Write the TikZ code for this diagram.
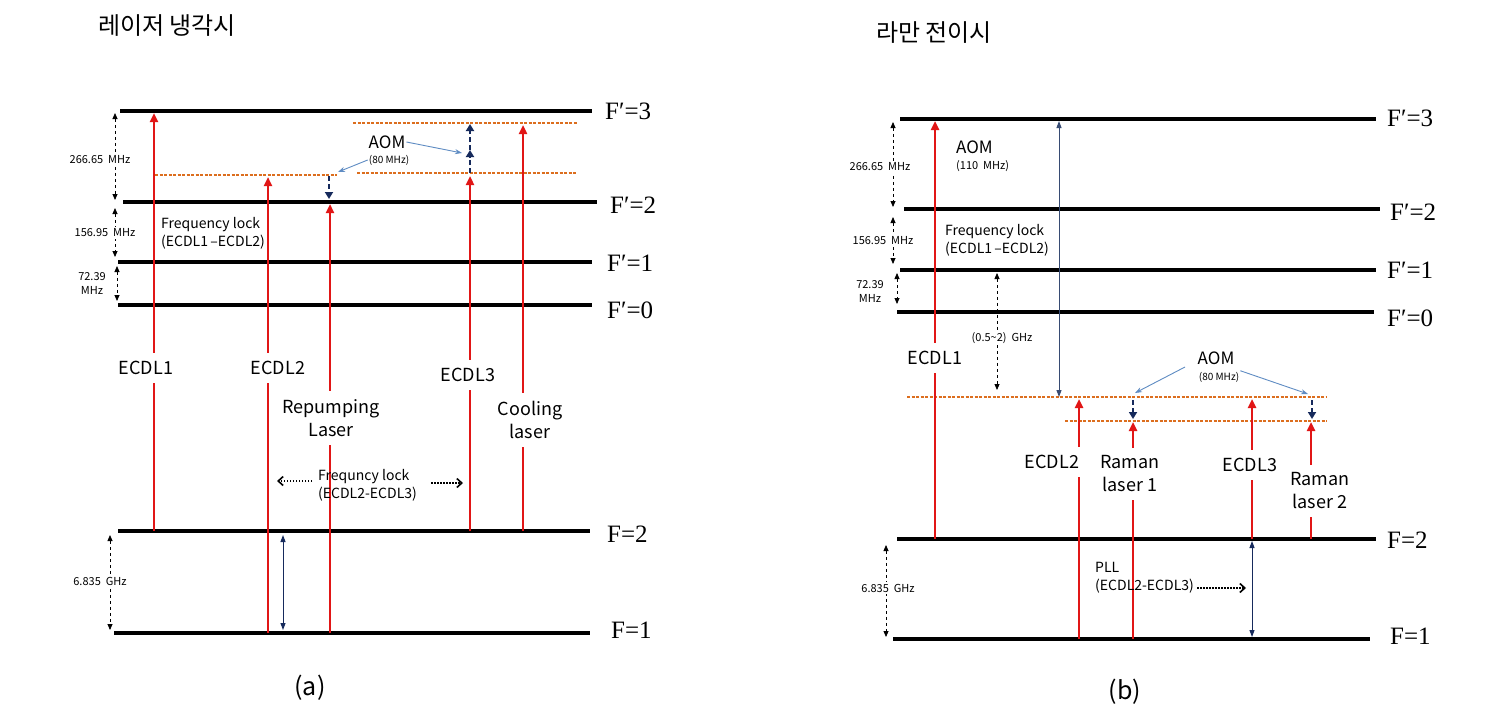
\documentclass[tikz,border=0pt]{standalone}
\usepackage{fontspec}
\setmainfont{Liberation Serif}
\setsansfont{Noto Sans CJK KR}
\usetikzlibrary{arrows.meta}
\definecolor{lred}{RGB}{225,22,22}
\definecolor{navy}{RGB}{22,42,92}
\definecolor{steel}{RGB}{95,140,195}
\definecolor{refc}{RGB}{220,110,30}
\definecolor{slate}{RGB}{55,75,115}
\tikzset{
 lvl/.style={line width=4.5pt},
 lvltxt/.style={anchor=west, inner sep=0pt, font=\fontsize{25}{28}\selectfont},
 laser/.style={draw=lred, line width=2.6pt, -{Triangle[length=9pt,width=8pt]}},
 lbl/.style={fill=white, align=center, font=\sffamily\fontsize{18}{23}\selectfont, inner xsep=3pt, inner ysep=8pt},
 note/.style={align=left, font=\sffamily\fontsize{14}{18}\selectfont, inner sep=0pt, anchor=west},
 small/.style={font=\sffamily\fontsize{11}{14}\selectfont, fill=white, inner sep=1.5pt, align=center},
 span/.style={dashed, line width=0.8pt, {Triangle[length=6pt,width=5pt]}-{Triangle[length=6pt,width=5pt]}},
 shiftarr/.style={draw=navy, line width=2.4pt, dash pattern=on 5pt off 3pt, -{Triangle[length=7pt,width=8pt]}},
 ptr/.style={draw=steel, line width=0.9pt, -{Stealth[length=7pt,width=5pt]}},
 refl/.style={draw=refc, line width=1.1pt, dash pattern=on 3pt off 1.5pt},
 navyboth/.style={draw=navy, line width=1pt, {Triangle[length=7pt,width=5pt]}-{Triangle[length=7pt,width=5pt]}},
 lockarr/.style={line width=1.6pt, dash pattern=on 1.5pt off 1.5pt, -{Straight Barb[length=5pt,width=9pt]}},
 aomtxt/.style={font=\sffamily\fontsize{17}{20}\selectfont, inner sep=1pt},
 aomsub/.style={font=\sffamily\fontsize{10}{12}\selectfont, inner sep=1pt},
 titletxt/.style={font=\sffamily\fontsize{24}{28}\selectfont, inner sep=0pt},
 captxt/.style={font=\sffamily\fontsize{25}{30}\selectfont, inner sep=0pt}
}
\begin{document}
\begin{tikzpicture}[x=1pt,y=-1pt]
\useasboundingbox (0,0) rectangle (1512,720);
\fill[white] (0,0) rectangle (1512,720);

% ================= LEFT PANEL =================
\node[titletxt] (tA) at (167,26) {레이저 냉각시};
% levels
\draw[lvl] (120,111) -- (592,111); \node[lvltxt] (LP3) at (605,111) {F′=3};
\draw[lvl] (123,202) -- (597,202); \node[lvltxt] (LP2) at (610,205) {F′=2};
\draw[lvl] (118,262) -- (592,262); \node[lvltxt] (LP1) at (607,263) {F′=1};
\draw[lvl] (118,305) -- (592,305); \node[lvltxt] (LP0) at (607,310) {F′=0};
\draw[lvl] (118,531) -- (590,531); \node[lvltxt] (LS2) at (607,534) {F=2};
\draw[lvl] (114,633) -- (590,633); \node[lvltxt] (LS1) at (611,630) {F=1};
% reference (dashed) levels
\draw[refl] (155,175) -- (337,175);
\draw[refl] (357,173) -- (577,173);
\draw[refl] (353,123) -- (577,123);
% coordinates
\coordinate (a1b) at (154,531); \coordinate (a1t) at (154,113);
\coordinate (a2b) at (268,633); \coordinate (a2t) at (268,177);
\coordinate (arb) at (330,633); \coordinate (art) at (330,204);
\coordinate (a3b) at (470,531); \coordinate (a3t) at (470,176);
\coordinate (acb) at (523,531); \coordinate (act) at (523,125);
\coordinate (s1a) at (329,176); \coordinate (s1b) at (329,199);
\coordinate (s2a) at (470,173); \coordinate (s2b) at (470,150); \coordinate (s2c) at (470,124);
% lasers
\draw[laser] (a1b) -- (a1t);
\draw[laser] (a2b) -- (a2t);
\draw[laser] (arb) -- (art);
\draw[laser] (a3b) -- (a3t);
\draw[laser] (acb) -- (act);
% AOM shifts
\draw[shiftarr] (s1a) -- (s1b);
\draw[shiftarr] (s2a) -- (s2b);
\draw[shiftarr] (s2b) -- (s2c);
% laser labels
\node[lbl] (L1) at (146,368) {ECDL1};
\node[lbl] (L2) at (278,368) {ECDL2};
\node[lbl] (L3) at (468,375) {ECDL3};
\node[lbl] (LR) at (331,418) {Repumping\\Laser};
\node[lbl] (LC) at (530,420) {Cooling\\laser};
% AOM
\node[aomtxt] (aomA) at (387,142) {AOM};
\node[aomsub] (aomAf) at (389,160) {(80 MHz)};
\coordinate (pA1) at (338,172); \coordinate (pA2) at (462,153);
\draw[ptr] (aomAf.west) -- (pA1);
\draw[ptr] (aomA.east) -- (pA2);
% frequency lock 1
\node[note] (fl1) at (161,233) {Frequency lock\\(ECDL1\,–ECDL2)};
% spans
\coordinate (sp1a) at (115,113); \coordinate (sp1b) at (115,200);
\coordinate (sp2a) at (115,208); \coordinate (sp2b) at (115,257);
\coordinate (sp3a) at (117,266); \coordinate (sp3b) at (117,301);
\coordinate (sp4a) at (110,535); \coordinate (sp4b) at (110,630);
\draw[span] (sp1a) -- (sp1b);
\draw[span] (sp2a) -- (sp2b);
\draw[span] (sp3a) -- (sp3b);
\draw[span] (sp4a) -- (sp4b);
\node[small] (n1) at (100,160) {266.65\ \ MHz};
\node[small] (n2) at (105,233) {156.95\ \ MHz};
\node[small, fill=none] (n3) at (92,284) {72.39\\MHz};
\node[small] (n4) at (100,581) {6.835\ \ GHz};
% frequency lock 2
\node[note] (fl2) at (318,485) {Frequncy lock\\(ECDL2-ECDL3)};
\coordinate (fk1a) at (312,481); \coordinate (fk1b) at (277,481);
\coordinate (fk2a) at (431,483); \coordinate (fk2b) at (463,483);
\draw[lockarr] (fk1a) -- (fk1b);
\draw[lockarr] (fk2a) -- (fk2b);
% ground splitting arrow
\coordinate (gA1) at (283,535); \coordinate (gA2) at (283,630);
\draw[navyboth] (gA1) -- (gA2);
\node[captxt] (capA) at (310,688) {(a)};

% ================= RIGHT PANEL =================
\node[titletxt] (tB) at (934,33) {라만 전이시};
\draw[lvl] (900,119) -- (1376,119); \node[lvltxt] (RP3) at (1387,118) {F′=3};
\draw[lvl] (904,209) -- (1380,209); \node[lvltxt] (RP2) at (1390,212) {F′=2};
\draw[lvl] (900,270) -- (1376,270); \node[lvltxt] (RP1) at (1387,270) {F′=1};
\draw[lvl] (897,312) -- (1374,312); \node[lvltxt] (RP0) at (1387,318) {F′=0};
\draw[lvl] (897,539) -- (1376,539); \node[lvltxt] (RS2) at (1387,540) {F=2};
\draw[lvl] (893,639) -- (1370,639); \node[lvltxt] (RS1) at (1390,636) {F=1};
\draw[refl] (907,397) -- (1327,397);
\draw[refl] (1065,421) -- (1327,421);
% coordinates
\coordinate (b1b) at (935,539); \coordinate (b1t) at (935,121);
\coordinate (b2b) at (1079,639); \coordinate (b2t) at (1079,399);
\coordinate (bR1b) at (1133,639); \coordinate (bR1t) at (1133,422);
\coordinate (b3b) at (1252,539); \coordinate (b3t) at (1252,399);
\coordinate (bR2b) at (1311,539); \coordinate (bR2t) at (1311,422);
\draw[laser] (b1b) -- (b1t);
\draw[laser] (b2b) -- (b2t);
\draw[laser] (bR1b) -- (bR1t);
\draw[laser] (b3b) -- (b3t);
\draw[laser] (bR2b) -- (bR2t);
\coordinate (t1a) at (1133,400); \coordinate (t1b) at (1133,419);
\coordinate (t2a) at (1312,400); \coordinate (t2b) at (1312,419);
\draw[shiftarr] (t1a) -- (t1b);
\draw[shiftarr] (t2a) -- (t2b);
% long AOM arrow
\coordinate (la1) at (1059,121); \coordinate (la2) at (1059,397);
\draw[draw=slate, line width=1pt, {Triangle[length=7pt,width=5pt]}-{Triangle[length=7pt,width=5pt]}] (la1) -- (la2);
% labels
\node[lbl] (R1) at (935,358) {ECDL1};
\node[lbl] (R2) at (1052,462) {ECDL2};
\node[lbl] (RR1) at (1130,474) {Raman\\laser 1};
\node[lbl] (R3) at (1250,465) {ECDL3};
\node[lbl] (RR2) at (1320,491) {Raman\\laser 2};
\node[aomtxt, anchor=west] (aomB) at (955,147) {AOM};
\node[aomsub, anchor=west, font=\sffamily\fontsize{11}{13}\selectfont] (aomBf) at (955,166) {(110\ \ MHz)};
\node[note] (fl3) at (945,240) {Frequency lock\\(ECDL1\,–ECDL2)};
\node[aomtxt] (aomC) at (1216,358) {AOM};
\node[aomsub] (aomCf) at (1219,377) {(80 MHz)};
\coordinate (pC0) at (1185,367);
\coordinate (pC1) at (1135,393); \coordinate (pC2) at (1308,394);
\draw[ptr] (pC0) -- (pC1);
\draw[ptr] (aomCf.north east) -- (pC2);
% (0.5~2) GHz
\coordinate (d1) at (997,273); \coordinate (d2) at (997,390);
\draw[span] (d1) -- (d2);
\node[small] (d0) at (1002,338) {(0.5\textasciitilde 2)\ \ GHz};
% spans
\coordinate (rs1a) at (893,122); \coordinate (rs1b) at (893,207);
\coordinate (rs2a) at (893,217); \coordinate (rs2b) at (893,264);
\coordinate (rs3a) at (897,273); \coordinate (rs3b) at (897,304);
\coordinate (rs4a) at (886,545); \coordinate (rs4b) at (886,637);
\draw[span] (rs1a) -- (rs1b);
\draw[span] (rs2a) -- (rs2b);
\draw[span] (rs3a) -- (rs3b);
\draw[span] (rs4a) -- (rs4b);
\node[small] (m1) at (880,167) {266.65\ \ MHz};
\node[small] (m2) at (883,241) {156.95\ \ MHz};
\node[small, fill=none] (m3) at (870,292) {72.39\\MHz};
\node[small] (m4) at (888,588) {6.835\ \ GHz};
% PLL
\node[note] (pll) at (1095,578) {PLL\\(ECDL2-ECDL3)};
\coordinate (pl1) at (1197,588); \coordinate (pl2) at (1246,588);
\draw[lockarr] (pl1) -- (pl2);
\coordinate (gB1) at (1252,541); \coordinate (gB2) at (1252,637);
\draw[navyboth] (gB1) -- (gB2);
\node[captxt] (capB) at (1125,692) {(b)};
\end{tikzpicture}
\end{document}
